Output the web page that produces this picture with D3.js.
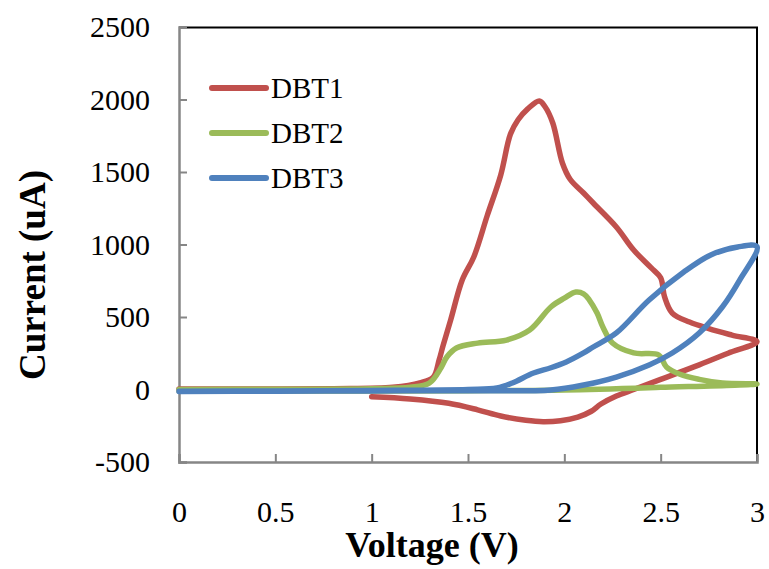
<!DOCTYPE html>
<html>
<head>
<meta charset="utf-8">
<script src="https://cdn.jsdelivr.net/npm/d3@7"></script>
<style>
  body { margin: 0; background: #fff; }
  text { font-family: "Liberation Serif", "Times New Roman", serif; }
</style>
</head>
<body>
<div class="canvas"></div>
<script>
// series names and colours
const seriesNames = ['DBT1', 'DBT2', 'DBT3'];
const seriesColors = ['#C0504D', '#9BBB59', '#4F81BD'];

// DBT1: forward sweep from 1 V to 3 V, then back to 0 V
const dbt1V = [1.00, 1.20, 1.40, 1.55, 1.67, 1.80, 1.89, 1.98, 2.07, 2.14, 2.19, 2.27, 2.36, 2.50, 2.70, 2.85, 3.00,
  2.87, 2.75, 2.65, 2.56, 2.52, 2.50, 2.45, 2.36, 2.27, 2.15, 2.10, 2.03, 1.99, 1.94, 1.90, 1.87, 1.81, 1.76, 1.72,
  1.67, 1.60, 1.53, 1.47, 1.41, 1.37, 1.35, 1.32, 1.25, 1.11, 0.80, 0.40, 0.00];
const dbt1I = [-50, -65, -95, -140, -183, -212, -222, -215, -190, -150, -100, -45, 0, 70, 170, 250, 330,
  375, 420, 465, 527, 640, 770, 840, 962, 1121, 1286, 1355, 1450, 1562, 1838, 1950, 1990, 1935, 1860, 1760,
  1480, 1200, 914, 755, 479, 300, 203, 86, 45, 15, 6, 4, 3];

// DBT2
const dbt2V = [0.00, 0.50, 1.00, 1.20, 1.30, 1.36, 1.39, 1.44, 1.55, 1.70, 1.82, 1.93, 2.00, 2.06, 2.10, 2.13, 2.17,
  2.20, 2.25, 2.36, 2.49, 2.53, 2.60, 2.70, 2.82, 3.00, 2.50, 2.00, 1.50, 1.00, 0.50, 0.00];
const dbt2I = [0, 2, 5, 15, 45, 150, 224, 286, 320, 341, 410, 569, 630, 672, 660, 617, 527,
  431, 321, 252, 238, 155, 105, 70, 45, 38, 15, -3, -8, -10, -10, -10];

// DBT3
const dbt3V = [0.00, 0.50, 1.00, 1.50, 1.65, 1.73, 1.84, 1.93, 2.01, 2.10, 2.15, 2.27, 2.44, 2.62, 2.76, 2.90, 3.00,
  2.91, 2.82, 2.70, 2.56, 2.44, 2.27, 2.10, 1.93, 1.50, 1.00, 0.50, 0.00];
const dbt3I = [-12, -10, -7, 0, 10, 45, 114, 150, 190, 252, 293, 390, 617, 810, 928, 983, 985,
  755, 569, 390, 252, 169, 86, 31, -3, -8, -10, -12, -13];

// axis ticks
const xTicks = [0, 0.5, 1, 1.5, 2, 2.5, 3];
const yTicks = [-500, 0, 500, 1000, 1500, 2000, 2500];

const margin = { top: 27, right: 12, bottom: 107, left: 179 };
const width = 769, height = 569;
const graphWidth = width - margin.left - margin.right;
const graphHeight = height - margin.top - margin.bottom;

const svg = d3.select('.canvas')
  .append('svg')
   .attr('width', width)
   .attr('height', height);

const graph = svg.append('g')
  .attr('transform', `translate(${margin.left}, ${margin.top})`);

const x = d3.scaleLinear().domain([0, 3]).range([0, graphWidth]);
const y = d3.scaleLinear().domain([-500, 2500]).range([graphHeight, 0]);

// top and right border (black)
graph.append('path')
  .attr('d', `M0,0.5H${graphWidth}V${graphHeight}`)
  .attr('fill', 'none')
  .attr('stroke', '#000')
  .attr('stroke-width', 2);

// axes with inward ticks
const xAxis = d3.axisBottom(x).tickValues(xTicks).tickSize(-8).tickPadding(39)
  .tickFormat(d => d);
const yAxis = d3.axisLeft(y).tickValues(yTicks).tickSize(-8).tickPadding(29)
  .tickFormat(d => d);

const xAxisGroup = graph.append('g')
  .attr('transform', `translate(0, ${graphHeight})`)
  .call(xAxis);
const yAxisGroup = graph.append('g').call(yAxis);

[xAxisGroup, yAxisGroup].forEach(g => {
  g.select('.domain').attr('stroke', '#868686').attr('stroke-width', 2.5);
  g.selectAll('.tick line').attr('stroke', '#868686').attr('stroke-width', 2);
  g.selectAll('text')
   .style('font-size', '30px')
   .style('font-family', '"Liberation Serif", serif')
   .attr('fill', '#000');
});

// curves
const series = [
  { name: seriesNames[0], v: dbt1V, i: dbt1I },
  { name: seriesNames[1], v: dbt2V, i: dbt2I },
  { name: seriesNames[2], v: dbt3V, i: dbt3I }
];

const line = d3.line()
  .x(d => x(d[0]))
  .y(d => y(d[1]))
  .curve(d3.curveCatmullRom.alpha(0.5));

graph.selectAll('.curve')
  .data(series)
  .enter()
  .append('path')
   .attr('class', 'curve')
   .attr('fill', 'none')
   .attr('stroke', (d, k) => seriesColors[k])
   .attr('stroke-width', 5.5)
   .attr('stroke-linejoin', 'round')
   .attr('stroke-linecap', 'round')
   .attr('d', d => line(d.v.map((v, k) => [v, d.i[k]])));

// legend
const legend = svg.append('g').attr('transform', 'translate(212, 88)');
seriesNames.forEach((name, k) => {
  const row = legend.append('g').attr('transform', `translate(0, ${k * 45})`);
  row.append('line')
    .attr('x1', 0).attr('x2', 54)
    .attr('stroke', seriesColors[k])
    .attr('stroke-width', 6)
    .attr('stroke-linecap', 'round');
  row.append('text')
    .attr('x', 59).attr('y', 10)
    .style('font-size', '29px')
    .text(name);
});

// axis titles
svg.append('text')
  .attr('x', 432).attr('y', 557)
  .attr('text-anchor', 'middle')
  .style('font-size', '36px')
  .style('font-weight', 'bold')
  .text('Voltage (V)');

svg.append('text')
  .attr('transform', 'translate(45, 275) rotate(-90)')
  .attr('text-anchor', 'middle')
  .style('font-size', '37px')
  .style('font-weight', 'bold')
  .text('Current  (uA)');
</script>
</body>
</html>
